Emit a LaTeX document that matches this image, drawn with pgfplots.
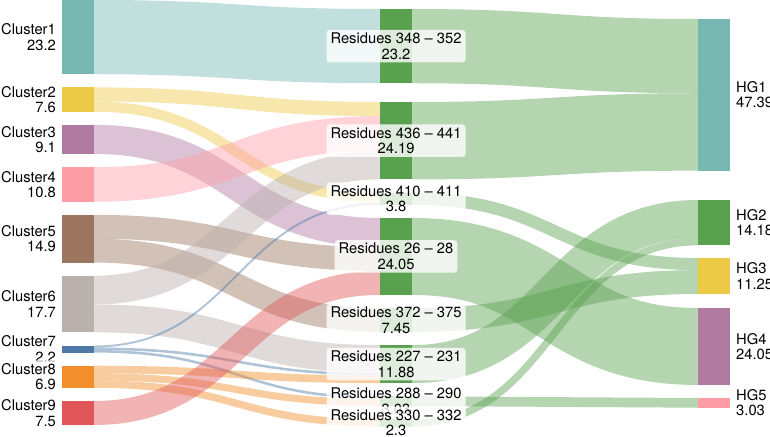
\documentclass[border=0pt]{standalone}
\usepackage{pgfplots}
\usepackage{pgfplotstable}
\pgfplotsset{compat=1.18}
\usepackage{fontspec}
\setmainfont{TeX Gyre Heros}
\definecolor{cTeal}{HTML}{76B7B2}
\definecolor{cYellow}{HTML}{EDC948}
\definecolor{cPurple}{HTML}{B07AA1}
\definecolor{cPink}{HTML}{FF9DA7}
\definecolor{cBrown}{HTML}{9C755F}
\definecolor{cGray}{HTML}{BAB0AC}
\definecolor{cBlue}{HTML}{4E79A7}
\definecolor{cOrange}{HTML}{F28E2C}
\definecolor{cRed}{HTML}{E15759}
\definecolor{cGreen}{HTML}{59A14F}

% nodes: left x, top y (px), value, colour
\pgfplotstableread{
x y v col
62 0 23.2 cTeal
62 87.4 7.6 cYellow
62 124.88 9.1 cPurple
62 167.16 10.8 cPink
62 214.88 14.9 cBrown
62 275.72 17.7 cGray
62 345.52 2.2 cBlue
62 365.72 6.9 cOrange
62 400.96 7.5 cRed
380 9 23.2 cGreen
380 102 24.19 cGreen
380 192.6 3.8 cGreen
380 217.96 24.05 cGreen
380 308.1 7.45 cGreen
380 345.1 11.88 cGreen
380 396.3 3.03 cGreen
380 419.2 2.3 cGreen
698 19 47.39 cTeal
698 200 14.18 cGreen
698 258 11.25 cYellow
698 308 24.05 cPurple
698 398 3.03 cPink
}\nodetab

% links: source x, top y at source, target x, top y at target, value, colour
\pgfplotstableread{
xa ya xb yb v col
94 0 380 9 23.2 cTeal
94 87.4 380 102 4.4 cYellow
94 101.48 380 192.6 3.2 cYellow
94 124.88 380 217.96 9.1 cPurple
94 167.16 380 116.08 10.8 cPink
94 214.88 380 247.08 7.45 cBrown
94 238.72 380 308.1 7.45 cBrown
94 275.72 380 150.64 8.99 cGray
94 304.49 380 345.1 8.71 cGray
94 345.52 380 202.84 0.6 cBlue
94 347.44 380 372.97 0.8 cBlue
94 350.0 380 396.3 0.8 cBlue
94 365.72 380 375.53 2.37 cOrange
94 373.30 380 398.86 2.23 cOrange
94 380.44 380 419.2 2.3 cOrange
94 400.96 380 270.92 7.5 cRed
412 9 698 19 23.2 cGreen
412 102 698 93.24 24.19 cGreen
412 192.6 698 258 3.8 cGreen
412 217.96 698 308 24.05 cGreen
412 308.1 698 270.16 7.45 cGreen
412 345.1 698 200 11.88 cGreen
412 396.3 698 398 3.03 cGreen
412 419.2 698 238.02 2.3 cGreen
}\linktab

\tikzset{lab/.style={fill=white, fill opacity=0.8, text opacity=1,
  rounded corners=3bp, inner xsep=4bp, inner ysep=3bp, text=black,
  font=\fontsize{14.8}{15.5}\selectfont}}

\begin{document}
\begin{tikzpicture}
\begin{axis}[hide axis, scale only axis, width=770bp, height=436bp,
  xmin=0, xmax=770, ymin=0, ymax=436, y dir=reverse, clip=true]
% links
\pgfplotstablegetrowsof{\linktab}
\pgfmathtruncatemacro{\nl}{\pgfplotsretval-1}
\pgfplotsforeachungrouped \i in {0,...,\nl}{
  \pgfplotstablegetelem{\i}{xa}\of\linktab \let\xa\pgfplotsretval
  \pgfplotstablegetelem{\i}{ya}\of\linktab \let\ya\pgfplotsretval
  \pgfplotstablegetelem{\i}{xb}\of\linktab \let\xb\pgfplotsretval
  \pgfplotstablegetelem{\i}{yb}\of\linktab \let\yb\pgfplotsretval
  \pgfplotstablegetelem{\i}{v}\of\linktab \let\lv\pgfplotsretval
  \pgfplotstablegetelem{\i}{col}\of\linktab \let\lc\pgfplotsretval
  \pgfmathsetmacro{\lw}{\lv*3.2}
  \pgfmathsetmacro{\ca}{\ya+\lw/2}
  \pgfmathsetmacro{\cb}{\yb+\lw/2}
  \pgfmathsetmacro{\xm}{(\xa+\xb)/2}
  \edef\temp{\noexpand\draw[draw=\lc, draw opacity=0.45, line width=\lw bp, line cap=butt]
    (axis cs:\xa,\ca) .. controls (axis cs:\xm,\ca) and (axis cs:\xm,\cb) .. (axis cs:\xb,\cb);}
  \temp
}
% nodes
\pgfplotstablegetrowsof{\nodetab}
\pgfmathtruncatemacro{\nn}{\pgfplotsretval-1}
\pgfplotsforeachungrouped \i in {0,...,\nn}{
  \pgfplotstablegetelem{\i}{x}\of\nodetab \let\nx\pgfplotsretval
  \pgfplotstablegetelem{\i}{y}\of\nodetab \let\ny\pgfplotsretval
  \pgfplotstablegetelem{\i}{v}\of\nodetab \let\nv\pgfplotsretval
  \pgfplotstablegetelem{\i}{col}\of\nodetab \let\nc\pgfplotsretval
  \pgfmathsetmacro{\nxb}{\nx+32}
  \pgfmathsetmacro{\nyb}{\ny+\nv*3.2}
  \edef\temp{\noexpand\fill[\nc] (axis cs:\nx,\ny) rectangle (axis cs:\nxb,\nyb);}
  \temp
}
% left labels
\node[lab, anchor=east, align=right] at (axis cs:60,37.12) {Cluster1\\23.2};
\node[lab, anchor=east, align=right] at (axis cs:60,99.56) {Cluster2\\7.6};
\node[lab, anchor=east, align=right] at (axis cs:60,139.44) {Cluster3\\9.1};
\node[lab, anchor=east, align=right] at (axis cs:60,184.44) {Cluster4\\10.8};
\node[lab, anchor=east, align=right] at (axis cs:60,238.72) {Cluster5\\14.9};
\node[lab, anchor=east, align=right] at (axis cs:60,304.04) {Cluster6\\17.7};
\node[lab, anchor=east, align=right] at (axis cs:60,349.04) {Cluster7\\2.2};
\node[lab, anchor=east, align=right] at (axis cs:60,376.76) {Cluster8\\6.9};
\node[lab, anchor=east, align=right] at (axis cs:60,412.96) {Cluster9\\7.5};
% middle labels
\node[lab, align=center] at (axis cs:396,46.12) {Residues 348 -- 352\\23.2};
\node[lab, align=center] at (axis cs:396,140.7) {Residues 436 -- 441\\24.19};
\node[lab, align=center] at (axis cs:396,198.68) {Residues 410 -- 411\\3.8};
\node[lab, align=center] at (axis cs:396,256.44) {Residues 26 -- 28\\24.05};
\node[lab, align=center] at (axis cs:396,320.02) {Residues 372 -- 375\\7.45};
\node[lab, align=center] at (axis cs:396,364.11) {Residues 227 -- 231\\11.88};
\node[lab, align=center] at (axis cs:396,401.15) {Residues 288 -- 290\\3.03};
\node[lab, align=center] at (axis cs:396,422.88) {Residues 330 -- 332\\2.3};
% right labels
\node[lab, anchor=west, align=left] at (axis cs:732,94.8) {HG1\\47.39};
\node[lab, anchor=west, align=left] at (axis cs:732,222.69) {HG2\\14.18};
\node[lab, anchor=west, align=left] at (axis cs:732,276) {HG3\\11.25};
\node[lab, anchor=west, align=left] at (axis cs:732,346.48) {HG4\\24.05};
\node[lab, anchor=west, align=left] at (axis cs:732,402.85) {HG5\\3.03};
\end{axis}
\pgfresetboundingbox
\path (current axis.south west) rectangle (current axis.north east);
\end{tikzpicture}
\end{document}
